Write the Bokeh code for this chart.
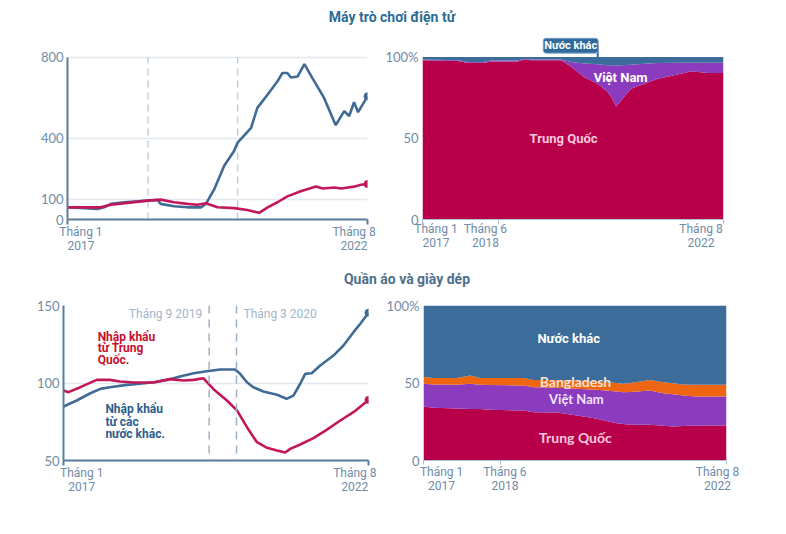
from bokeh.plotting import figure
from bokeh.models import Span, Label, FixedTicker, Div, ColumnDataSource, Range1d, Arrow, LinearAxis
from bokeh.layouts import column, row
from bokeh.embed import file_html
from bokeh.resources import INLINE

# ---------------- data ----------------
TITLE_TOP = "Máy trò chơi điện tử"
TITLE_BOTTOM = "Quần áo và giày dép"

# months since Jan 2017 (0) .. Aug 2022 (67)
X_END = 67

# Top-left: game consoles, import index
tl_blue_m = [0, 6.7, 8.2, 9.7, 12.7, 17.9, 20.1, 20.8, 23.8, 26.8, 29.8, 30.9, 32.8, 35, 37.2, 38, 41, 42.4,
             44.7, 46.9, 48, 49.1, 49.9, 51.4, 52.9, 54.7, 57.3, 59.9, 61.8, 62.9, 64, 64.9, 67]
tl_blue_v = [60, 52, 60, 77, 85, 93, 96, 77, 65, 60, 60, 77, 150, 265, 338, 379, 452, 550,
             616, 681, 722, 722, 700, 705, 766, 697, 599, 465, 534, 510, 578, 529, 607]
tl_red_m = [0, 7.4, 9.7, 13.4, 17.9, 20.8, 23.8, 26.8, 29, 30.9, 33.5, 37.2, 40.2, 42.8, 44.7, 46.9,
            49.1, 52.1, 55.5, 57, 59.6, 61.1, 64, 65.5, 67]
tl_red_v = [60, 60, 73, 82, 93, 98, 85, 77, 73, 80, 60, 56, 47, 33, 60, 85,
            114, 139, 163, 153, 158, 153, 162, 171, 175]
tl_yticks = [0, 100, 400, 800]
tl_ylabels = ["0", "100", "400", "800"]
tl_events = [18, 38]

# Top-right: game consoles, share of imports (%)
tr_m = [0, 7.8, 10, 13.7, 15.2, 21.2, 22.7, 24.1, 30.8, 33.1, 36, 39, 41.2, 42.3, 43.1, 44.2, 46.4,
        49.4, 52.4, 56.1, 59.8, 63.5, 67]
tr_china = [98, 97.5, 96.5, 96.5, 97.3, 97.3, 98.5, 98, 98, 94, 87.6, 83.5, 78.4, 74.2, 69.5, 73.2, 80.4,
            83.5, 86.6, 88.7, 91.3, 90.1, 90.1]
tr_vietnam = [0.4, 0.5, 0.5, 0.5, 0.5, 0.5, 0.3, 0.4, 0.5, 3, 8.4, 12, 16.6, 20.8, 25.3, 21.8, 14.9,
              12.3, 9.7, 7.8, 5.2, 6.4, 6.4]
tr_other = [1.6, 2, 3, 3, 2.2, 2.2, 1.2, 1.6, 1.5, 3, 4, 4.5, 5, 5, 5.2, 5, 4.7,
            4.2, 3.7, 3.5, 3.5, 3.5, 3.5]
share_yticks = [0, 50, 100]
share_ylabels = ["0", "50", "100%"]

# Bottom-left: clothing & footwear, import index
bl_blue_m = [0, 2.9, 5.9, 8.1, 10.2, 13.9, 16.8, 19.8, 22.7, 25.6, 28.6, 31.5, 34.4, 37.7, 38.8, 40.3,
             41.7, 43.9, 46.9, 49, 50.5, 52, 53.1, 54.5, 56.4, 59.3, 61.5, 63.7, 65.2, 67]
bl_blue_v = [84.8, 88.7, 93.4, 96.2, 97.3, 98.8, 99.5, 100.5, 102, 104.2, 106.3, 107.6, 108.7, 108.7, 105.9, 100.5,
             97.3, 94.5, 92.4, 89.8, 91.9, 99.5, 105.9, 106.3, 111.3, 117.7, 124.2, 132.8, 138.2, 145.3]
bl_red_m = [0, 1.1, 3.7, 7.3, 10.2, 12.4, 15.4, 19.8, 23.4, 26.4, 28.6, 30.7, 32.9, 35.9, 38.1, 40.3,
            42.5, 44.7, 46.9, 48.7, 49.8, 52, 54.9, 57.8, 60.8, 63.7, 67]
bl_red_v = [95.2, 94.1, 97.3, 102, 102, 101, 100.3, 100.3, 102.5, 101.6, 102, 103.1, 96.2, 88.7, 82.3, 71.5,
            61.8, 58.2, 56.5, 55.2, 57.5, 60.3, 64.4, 69.8, 75.8, 81.2, 89.1]
bl_yticks = [50, 100, 150]
bl_ylabels = ["50", "100", "150"]
bl_events = [32, 38]
bl_event_labels = ["Tháng 9  2019", "Tháng 3 2020"]

# Bottom-right: clothing & footwear, share of imports (%)
br_m = [0, 2.2, 7.4, 10.3, 12.5, 14.7, 22.1, 24.3, 29.5, 33.9, 36.8, 38.3, 42.7, 44.2, 45.7, 50.1,
        53, 55.2, 57.4, 60.4, 67]
br_china = [34.8, 34, 33.6, 33.3, 33.2, 32.7, 32.3, 31.2, 30.9, 29, 27.8, 26.9, 24.1, 23.6, 23, 23,
            22.5, 21.9, 22.3, 22.6, 22.6]
br_vietnam = [14.7, 15, 15.2, 16.2, 15.6, 16, 16.1, 16.1, 16, 17.3, 18, 18.7, 20.4, 20.5, 21.2, 22.2,
              20.9, 20.9, 19.6, 18.7, 18.7]
br_bangladesh = [4.3, 4.3, 4.5, 5.3, 4.5, 4.6, 4.9, 4.7, 5.1, 5.3, 5.4, 5.4, 5.5, 5.4, 5.8, 6.8,
                 7.1, 7, 7.1, 7.5, 7.5]
br_other = [46.2, 46.7, 46.7, 45.2, 46.7, 46.7, 46.7, 48, 48, 48.4, 48.8, 49, 50, 50.5, 50, 48,
            49.5, 50.2, 51, 51.2, 51.2]

# x tick marks (months) and x tick labels
line_xticks = [0, 67]
share_xticks = [0, 17, 67]
line_xlabels = ["Tháng 1\n2017", "Tháng 8\n2022"]
share_xlabels = ["Tháng 1\n2017", "Tháng 6\n2018", "Tháng 8\n2022"]

# ---------------- style ----------------
AXIS = "#5a7c9b"
TICK_TXT = "#6f8ca8"
LIGHT_TXT = "#a3b6c8"
GRID = "#e1e8ef"
BLUE = "#3f6b94"
RED = "#c2185b"
A_RED = "#b8004a"
A_PURPLE = "#8b3bbd"
A_BLUE = "#3b6c9a"
A_ORANGE = "#ee6612"
NUM_FONT = "Lato"
COND_FONT = "Roboto"


def make_fig(w, h, bl, br, bt, bb, yr, yticks, ylabels, xticks, strong_axes):
    p = figure(width=w, height=h, x_range=Range1d(0, X_END), y_range=Range1d(*yr),
               output_backend="svg", toolbar_location=None,
               min_border_left=bl, min_border_right=br, min_border_top=bt, min_border_bottom=bb)
    p.outline_line_color = None
    p.xgrid.grid_line_color = None
    p.ygrid.ticker = FixedTicker(ticks=yticks)
    p.ygrid.grid_line_color = GRID if strong_axes else None
    p.ygrid.grid_line_width = 1.5
    yax = p.yaxis[0]
    yax.ticker = FixedTicker(ticks=yticks)
    yax.major_label_overrides = dict(zip(yticks, ylabels))
    yax.major_tick_line_color = None
    yax.minor_tick_line_color = None
    yax.major_tick_out = 0
    yax.major_tick_in = 0
    yax.major_label_standoff = 4
    yax.major_label_text_color = TICK_TXT
    yax.major_label_text_font = NUM_FONT
    yax.major_label_text_font_size = "13px"
    yax.bounds = (yticks[0], yticks[-1])
    xax = p.xaxis[0]
    xax.ticker = FixedTicker(ticks=xticks)
    xax.major_label_overrides = {t: "" for t in xticks}
    xax.major_label_standoff = 0
    xax.minor_tick_line_color = None
    xax.major_tick_in = 0
    if strong_axes:
        yax.axis_line_color = AXIS
        yax.axis_line_width = 2
        xax.axis_line_color = AXIS
        xax.axis_line_width = 2
        xax.major_tick_line_color = AXIS
        xax.major_tick_line_width = 2
        xax.major_tick_out = 5
    else:
        yax.axis_line_color = None
        xax.axis_line_color = "#a9c0d6"
        xax.axis_line_width = 1
        xax.major_tick_line_color = "#a9c0d6"
        xax.major_tick_out = 4
    return p


def add_label_axis(p, positions, labels, standoff):
    ax = LinearAxis(ticker=FixedTicker(ticks=positions),
                    major_label_overrides=dict(zip(positions, labels)),
                    axis_line_color=None, major_tick_line_color=None, minor_tick_line_color=None,
                    major_tick_in=0, major_tick_out=0,
                    major_label_standoff=standoff, major_label_text_color=TICK_TXT,
                    major_label_text_font=COND_FONT, major_label_text_font_size="12px",
                    major_label_text_line_height=1.0)
    p.add_layout(ax, "below")


def txt(p, x, y, s, color, size="12px", font=COND_FONT, style="bold", align="center", **kw):
    p.add_layout(Label(x=x, y=y, text=s, text_color=color, text_font_size=size, text_font=font,
                       text_font_style=style, text_align=align, text_baseline="middle", **kw))


# ---------------- top-left ----------------
# frame extends above 800 (empty) so that it lines up with the top-right frame
f1 = make_fig(377, 232, 67, 10, 7, 43, (0, 897), tl_yticks, tl_ylabels, line_xticks, True)
f1.segment(x0=tl_events, y0=[tl_yticks[0]] * len(tl_events), x1=tl_events,
           y1=[tl_yticks[-1]] * len(tl_events), line_color="#b9c9d9", line_width=1.3, line_dash="7 5")
f1.line(tl_blue_m, tl_blue_v, line_color=BLUE, line_width=2.6)
f1.line(tl_red_m, tl_red_v, line_color=RED, line_width=2.6)
f1.scatter([tl_blue_m[-1]], [tl_blue_v[-1]], size=7, color=BLUE)
f1.scatter([tl_red_m[-1]], [tl_red_v[-1]], size=7, color=RED)
add_label_axis(f1, [3, 64], line_xlabels, 0)

# ---------------- top-right ----------------
f2 = make_fig(386, 232, 45, 40, 7, 43, (0, 112), share_yticks, share_ylabels, share_xticks, False)
src2 = ColumnDataSource(dict(m=tr_m, cn=tr_china, vn=tr_vietnam, ot=tr_other))
f2.varea_stack(stackers=["cn", "vn", "ot"], x="m", color=[A_RED, A_PURPLE, A_BLUE], source=src2)
add_label_axis(f2, [3, 14, 62], share_xlabels, -2)
txt(f2, 31.4, 49.7, "Trung Quốc", "#f8c9dc", size="13px")
txt(f2, 44.1, 87.4, "Việt Nam", "#ffffff", size="13px")
f2.add_layout(Arrow(end=None, x_start=36, y_start=107, x_end=39, y_end=107,
                    line_color="#2f6a9a", line_width=2))
f2.add_layout(Arrow(end=None, x_start=39, y_start=107, x_end=39, y_end=100,
                    line_color="#2f6a9a", line_width=2))
txt(f2, 33, 107, "Nước khác", "#ffffff", size="11px",
    background_fill_color="#2f6a9a", border_line_color="#7fa6c9", border_line_width=1,
    padding=1, border_radius=3)

# ---------------- bottom-left ----------------
f3 = make_fig(378, 236, 63, 10, 15, 66, (50, 150), bl_yticks, bl_ylabels, line_xticks, True)
for ev in bl_events:
    f3.add_layout(Span(location=ev, dimension="height", line_color="#9fb2c5",
                       line_width=1.5, line_dash="8 6"))
txt(f3, bl_events[0], 150, bl_event_labels[0], LIGHT_TXT, size="12px", style="normal",
    align="right", x_offset=-4, y_offset=-8)
txt(f3, bl_events[1], 150, bl_event_labels[1], LIGHT_TXT, size="12px", style="normal",
    align="left", x_offset=7, y_offset=-8)
f3.line(bl_blue_m, bl_blue_v, line_color=BLUE, line_width=2.6)
f3.line(bl_red_m, bl_red_v, line_color=RED, line_width=2.6)
f3.scatter([bl_blue_m[-1]], [bl_blue_v[-1]], size=7, color=BLUE)
f3.scatter([bl_red_m[-1]], [bl_red_v[-1]], size=7, color=RED)
for i, s in enumerate(["Nhập khẩu", "từ Trung", "Quốc."]):
    txt(f3, 7.5, 130 - i * 7.7, s, "#c8102e", size="12px", align="left")
for i, s in enumerate(["Nhập khẩu", "từ các", "nước khác."]):
    txt(f3, 9.2, 83 - i * 8, s, "#2c5d8c", size="12px", align="left")
add_label_axis(f3, [4, 64], line_xlabels, 0)

# ---------------- bottom-right ----------------
f4 = make_fig(388, 236, 45, 40, 15, 66, (0, 100), share_yticks, share_ylabels, share_xticks, False)
src4 = ColumnDataSource(dict(m=br_m, cn=br_china, vn=br_vietnam, bd=br_bangladesh, ot=br_other))
f4.varea_stack(stackers=["cn", "vn", "bd", "ot"], x="m",
               color=[A_RED, A_PURPLE, A_ORANGE, A_BLUE], source=src4)
add_label_axis(f4, [4, 18, 65], share_xlabels, 0)
txt(f4, 32.1, 78.7, "Nước khác", "#ffffff", size="13px")
txt(f4, 33.6, 51, "Bangladesh", "#fde0cf", size="14px", font=NUM_FONT)
txt(f4, 33.8, 39.4, "Việt Nam", "#f1e4fb", size="13px", font=NUM_FONT)
txt(f4, 33.6, 14.8, "Trung Quốc", "#f8c9dc", size="14px", font=NUM_FONT)

# ---------------- titles & layout ----------------
t1 = Div(text=TITLE_TOP, width=770, height=30, margin=(0, 0, 0, 0),
         styles={"text-align": "center", "font-family": COND_FONT, "font-weight": "bold",
                 "font-size": "14px", "color": "#2b6c95", "width": "770px",
                 "padding-top": "7px", "padding-left": "14px", "box-sizing": "border-box"})
t2 = Div(text=TITLE_BOTTOM, width=770, height=28, margin=(0, 0, 0, 0),
         styles={"text-align": "center", "font-family": COND_FONT, "font-weight": "bold",
                 "font-size": "14px", "color": "#4d6f8c", "width": "770px",
                 "padding-top": "7px", "padding-left": "44px", "box-sizing": "border-box"})

layout = column(t1, row(f1, f2), t2, row(f3, f4))

with open("out.html", "w") as fh:
    fh.write(file_html(layout, INLINE))
